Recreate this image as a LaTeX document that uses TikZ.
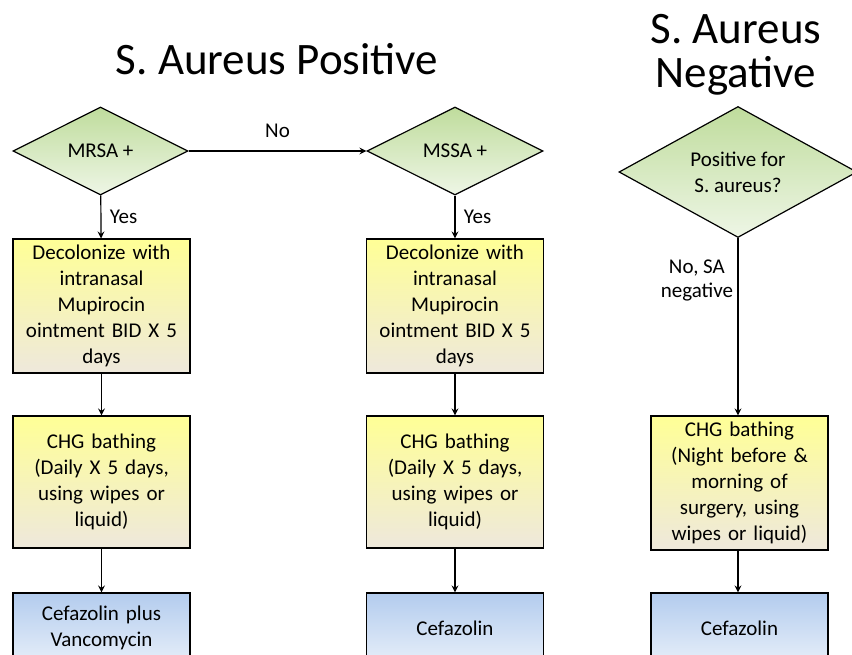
\documentclass[tikz,border=0pt]{standalone}
\usepackage{fontspec}
\setmainfont{Carlito}
\usetikzlibrary{shapes.geometric,arrows.meta}
\definecolor{greentop}{HTML}{BFDC9C}
\definecolor{greenbot}{HTML}{EEF6E6}
\definecolor{yellowtop}{HTML}{FFFF96}
\definecolor{yellowbot}{HTML}{EEE8DC}
\definecolor{bluetop}{HTML}{B3CCEE}
\definecolor{bluebot}{HTML}{E6EEF9}
\tikzset{
  decision/.style={diamond, draw, line width=1.2pt, aspect=2, inner sep=0pt,
    top color=greentop, bottom color=greenbot, align=center,
    font=\fontsize{21}{26}\selectfont},
  stepbox/.style={rectangle, draw, line width=1.2pt, inner xsep=3pt, inner ysep=2pt,
    text width=171pt, align=center, minimum height=134pt,
    top color=yellowtop, bottom color=yellowbot,
    font=\fontsize{21}{26}\selectfont},
  drugbox/.style={stepbox, minimum height=70pt,
    top color=bluetop, bottom color=bluebot},
  flow/.style={draw, line width=1.2pt, -{Stealth[length=7pt,width=7pt,inset=2.5pt]}},
  lbl/.style={font=\fontsize{21}{24}\selectfont, align=center},
  title/.style={font=\fontsize{45}{44}\selectfont, align=center}
}
\begin{document}
\begin{tikzpicture}[x=1pt,y=-1pt]
\clip (0,0) rectangle (852,655);
% Titles
\node[title] (tpos) at (277,59) {S. Aureus Positive};
\node[title] (tneg) at (736,55) {S. Aureus\\Negative};
% Column 1: MRSA
\node[decision, minimum width=175pt, minimum height=88pt] (mrsa) at (100.5,151) {MRSA +};
\node[stepbox] (decol1) at (101.5,306) {Decolonize with\\intranasal\\Mupirocin\\ointment BID X 5\\days};
\node[stepbox, minimum height=132pt] (chg1) at (101.5,482) {CHG bathing\\(Daily X 5 days,\\using wipes or\\liquid)};
\node[drugbox] (drug1) at (101.5,628) {Cefazolin plus\\Vancomycin};
% Column 2: MSSA
\node[decision, minimum width=176pt, minimum height=88pt] (mssa) at (455,151) {MSSA +};
\node[stepbox] (decol2) at (455,306) {Decolonize with\\intranasal\\Mupirocin\\ointment BID X 5\\days};
\node[stepbox, minimum height=132pt] (chg2) at (455,482) {CHG bathing\\(Daily X 5 days,\\using wipes or\\liquid)};
\node[drugbox] (drug2) at (455,628) {Cefazolin};
% Column 3: negative
\node[decision, minimum width=238pt, minimum height=131pt] (sapos) at (738,172) {Positive for\\S. aureus?};
\node[stepbox] (chg3) at (739.5,483) {CHG bathing\\(Night before \&\\morning of\\surgery, using\\wipes or liquid)};
\node[drugbox] (drug3) at (739.5,628) {Cefazolin};
% Connectors
\draw[flow] (mrsa) -- (mssa) node[lbl, midway, above=9pt] {No};
\draw[flow] (mrsa) -- (decol1) node[lbl, midway, right=5pt] {Yes};
\draw[flow] (mssa) -- (decol2) node[lbl, midway, right=5pt] {Yes};
\draw[flow] (decol1) -- (chg1);
\draw[flow] (decol2) -- (chg2);
\draw[flow] (chg1) -- (drug1);
\draw[flow] (chg2) -- (drug2);
\draw[flow] (sapos.south) -- (sapos.south |- chg3.north) node[lbl, pos=0.24, left=1pt] {No, SA\\negative};
\draw[flow] (chg3.south -| sapos.south) -- (sapos.south |- drug3.north);
\end{tikzpicture}
\end{document}
